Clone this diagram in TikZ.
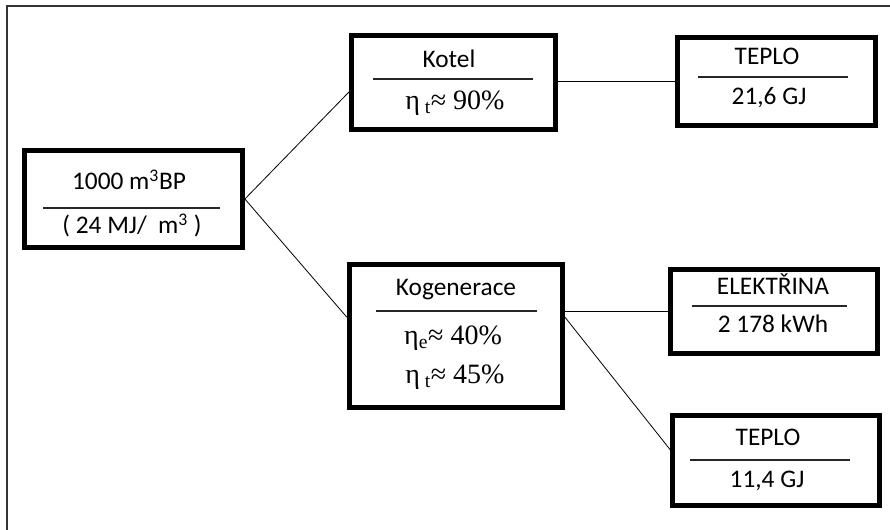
\documentclass[tikz,border=0pt]{standalone}
\usepackage{fontspec}
\setmainfont{Carlito}
\newfontfamily\etafont{Liberation Serif}
\usetikzlibrary{positioning}

\tikzset{
  stage/.style={draw, line width=3.6pt, inner sep=0pt},
  boxtext/.style={inner sep=0pt, text height=12pt, text depth=0pt,
    font=\fontsize{19}{23}\selectfont},
  effic/.style={inner sep=0pt, text height=9.5pt, text depth=0pt,
    font=\etafont\fontsize{21}{25}\selectfont},
  divider/.style={line width=1pt, black!85},
  frame/.style={line width=1.5pt, black!80},
}

\begin{document}
\begin{tikzpicture}[x=0.75pt, y=-0.75pt]
\useasboundingbox (0,0) rectangle (890,530);
\draw[frame] (890,6.5) -- (6.5,6.5) -- (6.5,530);

% source
\node (gas) [stage, minimum width=163.5pt, minimum height=72.75pt] at (133.5,199) {};
\node (gasT) [boxtext] at (129,182) {1000 m\textsuperscript{3}BP};
\draw[divider] (43,208) -- (220,208);
\node (gasB) [boxtext] at (132,226) {(\ 24 MJ/\ \ m\textsuperscript{3}\ )};

% boiler
\node (kotel) [stage, minimum width=153pt, minimum height=70.5pt] at (453.5,82.5) {};
\node (kotelT) [boxtext] at (449,60) {Kotel};
\draw[divider] (373,79) -- (533,79);
\node (kotelB) [effic] at (455,103) {η\,\textsubscript{t}≈ 90\%};

% cogeneration
\node (kog) [stage, minimum width=160pt, minimum height=107pt] at (456,336) {};
\node (kogT) [boxtext] at (456,288) {Kogenerace};
\draw[divider] (376,311) -- (537,311);
\node (kogE) [effic] at (453,338) {η\textsubscript{e}≈ 40\%};
\node (kogH) [effic] at (455,377) {η\,\textsubscript{t}≈ 45\%};

% outputs
\node (teplo1) [stage, minimum width=148.5pt, minimum height=66pt] at (776.5,81.5) {};
\node (teplo1T) [boxtext] at (767,57) {TEPLO};
\draw[divider] (698,77) -- (848,77);
\node (teplo1B) [boxtext] at (769,97) {21,6 GJ};

\node (elek) [stage, minimum width=155pt, minimum height=63pt] at (774,311.5) {};
\node (elekT) [boxtext] at (773,287) {ELEKTŘINA};
\draw[divider] (692,306) -- (847,306);
\node (elekB) [boxtext] at (773,325) {2 178 kWh};

\node (teplo2) [stage, minimum width=155pt, minimum height=67.5pt] at (776,460.5) {};
\node (teplo2T) [boxtext] at (768,438) {TEPLO};
\draw[divider] (690,460) -- (850,460);
\node (teplo2B) [boxtext] at (767,480) {11,4 GJ};

\path[line width=0.6pt] (gas.east) edge ([yshift=-7pt]kotel.west);
\path[line width=0.6pt] (gas.east) edge ([yshift=14pt]kog.west);
\path[line width=0.6pt] (teplo1.west -| kotel.east) edge (teplo1.west);
\path[line width=0.6pt] (elek.west -| kog.east) edge (elek.west);
\path[line width=0.6pt] ([yshift=14pt]kog.east) edge ([yshift=8pt]teplo2.west);
\end{tikzpicture}
\end{document}
